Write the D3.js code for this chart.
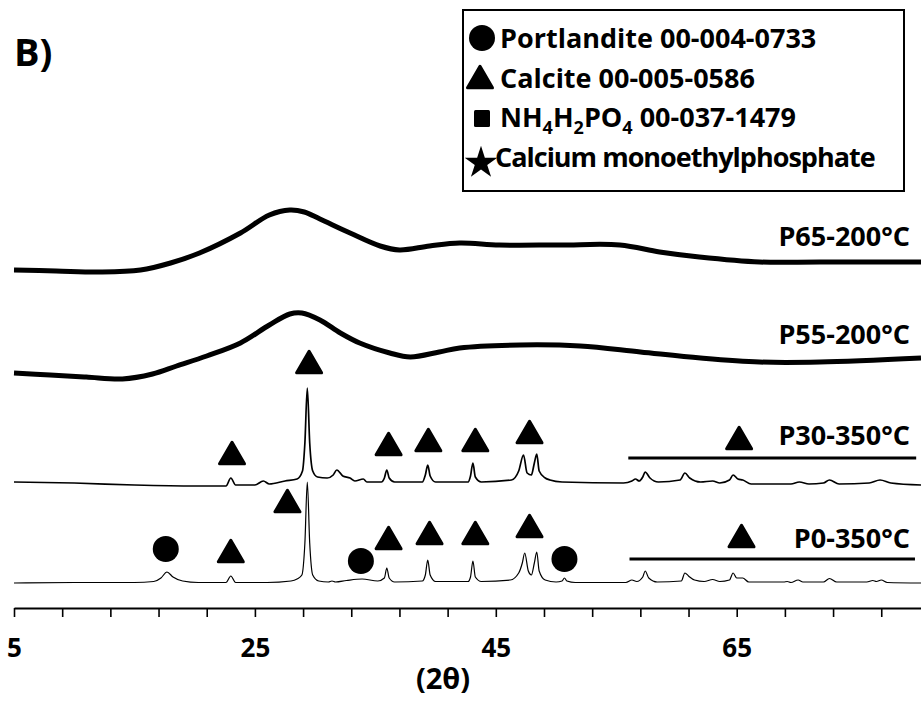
<!DOCTYPE html>
<html><head><meta charset="utf-8">
<script src="https://cdn.jsdelivr.net/npm/d3@7"></script>
<style>
html,body{margin:0;padding:0;background:#fff;}
svg{display:block;}
text{font-family:"Open Sans",sans-serif;font-weight:700;fill:#000;}
</style></head>
<body><svg id="chart" width="921" height="708"></svg>
<script>
// ---------- data ----------
const seriesNames = ["P0-350°C", "P30-350°C", "P55-200°C", "P65-200°C"];
const seriesOffsets = [25, 125, 228, 338];

const p0Data = [[5,0],[10,0.5],[15,0.5],[16.6,1.5],[17.2,5],[17.7,11],[18.2,6],[19.0,2],[20.3,0.5],[22.6,0.5],[23.0,7],[23.4,0.5],[26,0.5],[28.0,2],[28.5,4],[28.9,8],[29.15,40],[29.35,101],[29.55,40],[29.8,8],[30.3,2],[31.1,1],[31.4,2],[31.7,1],[32.6,2.5],[33.9,4],[35.2,2],[35.75,5],[35.95,15],[36.15,5],[36.6,1],[38.9,2],[39.15,8],[39.35,23],[39.55,8],[40,1.5],[42.7,1.5],[42.9,6],[43.1,22],[43.3,6],[43.8,1.5],[46.2,3],[46.9,10],[47.2,20],[47.4,30],[47.7,12],[47.95,8],[48.2,20],[48.4,31],[48.6,12],[49.1,3],[50.0,1],[50.5,2],[50.7,5],[50.9,2],[51.6,0.5],[55.8,0.5],[56.3,3],[56.7,1.5],[57.2,6],[57.4,12],[57.7,5],[58.4,1],[60.4,2],[60.7,10],[61.0,7],[61.5,3],[62.3,1.5],[63.0,3.5],[63.6,1.5],[64.4,3],[64.7,10],[65.0,5],[65.5,5],[66.0,1],[68.9,1],[69.2,1.5],[69.5,0.5],[70.1,3],[70.5,1],[72.2,1],[72.7,4.5],[73.3,1],[75.8,1],[76.3,2.5],[76.6,1.5],[77.0,3],[77.5,0.5],[80.3,0]];

const p30Data = [[5,1],[10,0],[15,-2],[20,-3],[22.6,-3],[23.0,5],[23.4,-2],[25.0,-2],[25.7,2],[26.2,-1],[27.5,2],[28.5,4],[28.95,12],[29.15,40],[29.35,95],[29.55,40],[29.8,12],[30.2,6],[31.0,5],[31.5,8],[31.8,13],[32.3,7],[32.9,5],[33.3,2],[34.0,4],[34.3,1],[35.5,1],[35.75,5],[35.95,13],[36.15,5],[36.6,1],[38.9,1],[39.15,8],[39.35,18],[39.55,7],[40.0,1],[42.7,1],[42.9,7],[43.1,20],[43.3,6],[43.8,1],[46.3,3],[46.9,12],[47.3,28],[47.6,10],[47.95,8],[48.2,20],[48.4,29],[48.6,12],[49.1,5],[49.5,3],[50.5,1],[55.6,0],[56.3,2],[56.6,4],[56.9,2],[57.2,6],[57.4,11],[57.8,5],[58.5,1],[60.3,3],[60.7,10],[61.1,5],[62.0,1],[63.0,2],[63.6,0],[64.4,3],[64.7,8],[65.1,4],[65.5,3],[66.2,-1],[69.5,-1],[70.2,1],[71.0,-1],[72.2,0],[72.7,3],[73.5,-1],[76.0,0],[76.9,3],[77.8,0],[80.3,-2]];

const p55Data = [[5.0,7],[8.0,5],[11.0,3],[14.0,1],[16.5,6],[18.5,14],[21.0,24],[23.8,37],[26.2,55],[27.9,66],[28.9,67],[30.4,60],[32.1,47],[33.7,37],[36.2,27],[37.9,23],[40.3,28],[42.0,32],[47.0,35],[52.0,34],[57.0,28],[62.0,22],[66.9,18],[71.9,18],[80.3,22]];

const p65Data = [[5.0,0],[8.5,-1],[12.1,-2],[15.5,0],[18.0,7],[20.4,17],[23.8,37],[26.2,55],[27.9,60],[29.1,58],[30.4,51],[32.9,37],[35.4,24],[37.0,20],[39.5,24],[42.0,27],[45.3,25],[50.3,25],[55.3,25],[58.6,18],[61.9,13],[66.9,8],[71.9,8],[80.3,8]];

const seriesData = [p0Data, p30Data, p55Data, p65Data];
const seriesWidths = [1.2, 1.7, 5, 5];

// phase markers: series index, phase, 2theta, level above series offset
const markerSeries = [0,0,0,0,0,0,0,0,0,0, 1,1,1,1,1,1,1];
const markerPhase  = ["circle","triangle","triangle","circle","triangle","triangle","triangle","triangle","circle","triangle",
                      "triangle","triangle","triangle","triangle","triangle","triangle","triangle"];
const markerTheta  = [17.6,23.0,27.7,33.8,36.1,39.5,43.3,47.8,50.7,65.4, 23.1,29.5,36.1,39.4,43.3,47.8,65.2];
const markerLevel  = [34,32,82,22,45,50,50,57,24,47, 30,121,39,43,43,51,45];

// multi-reflection bars
const barSeries = [0, 1];
const barStart = [56.1, 56.0];
const barEnd = [79.8, 79.9];
const barLevel = [24, 25];

const tickValues = [5,9,13,17,21,25,29,33,37,41,45,49,53,57,61,65,69,73,77];
const tickLabels = [5,25,45,65];
const xLabel = "(2θ)";
const panelLabel = "B)";

const legendPhases = ["circle","triangle","square","star"];
const legendNames = ["Portlandite 00-004-0733","Calcite 00-005-0586","NH4H2PO4 00-037-1479","Calcium monoethylphosphate"];

// ---------- drawing ----------
const svg = d3.select("#chart");
const x = d3.scaleLinear().domain([5, 80.3]).range([14, 921]);
const y = d3.scaleLinear().domain([0, 600]).range([608, 8]);

seriesData.forEach((data, i) => {
  const line = d3.line()
    .x(d => x(d[0]))
    .y(d => y(seriesOffsets[i] + d[1]))
    .curve(i < 2 ? d3.curveMonotoneX : d3.curveCatmullRom.alpha(0.5));
  svg.append("path").datum(data)
    .attr("d", line)
    .attr("fill", "none")
    .attr("stroke", "#000")
    .attr("stroke-width", seriesWidths[i])
    .attr("stroke-linejoin", "round");
});

const labelBaselines = [548, 445, 344, 246];
seriesNames.forEach((name, i) => {
  svg.append("text")
    .attr("x", 910)
    .attr("y", labelBaselines[i])
    .attr("text-anchor", "end")
    .attr("font-size", 27)
    .text(name);
});

barSeries.forEach((s, i) => {
  svg.append("line")
    .attr("x1", x(barStart[i])).attr("x2", x(barEnd[i]))
    .attr("y1", y(seriesOffsets[s] + barLevel[i])).attr("y2", y(seriesOffsets[s] + barLevel[i]))
    .attr("stroke", "#000").attr("stroke-width", 3);
});

function drawSymbol(g, type, cx, cy) {
  if (type === "circle") {
    g.append("circle").attr("cx", cx).attr("cy", cy).attr("r", 13).attr("fill", "#000");
  } else if (type === "triangle") {
    const h = 22;
    g.append("path")
      .attr("d", d3.symbol().type(d3.symbolTriangle).size(270)())
      .attr("transform", `translate(${cx},${cy + h / 6})`)
      .attr("fill", "#000").attr("stroke", "#000").attr("stroke-width", 3)
      .attr("stroke-linejoin", "round");
  } else if (type === "square") {
    g.append("rect").attr("x", cx - 8).attr("y", cy - 8).attr("width", 16).attr("height", 17)
      .attr("rx", 1.5).attr("fill", "#000");
  } else if (type === "star") {
    g.append("path")
      .attr("d", d3.symbol().type(d3.symbolStar).size(330)())
      .attr("transform", `translate(${cx},${cy + 2})`)
      .attr("fill", "#000");
  }
}

const markers = svg.append("g");
markerSeries.forEach((s, i) => {
  drawSymbol(markers, markerPhase[i], x(markerTheta[i]), y(seriesOffsets[s] + markerLevel[i]));
});

const axis = d3.axisBottom(x)
  .tickValues(tickValues)
  .tickSize(9)
  .tickSizeOuter(0)
  .tickPadding(22)
  .tickFormat(d => tickLabels.includes(d) ? d : "");
const ag = svg.append("g").attr("transform", `translate(0,${y(0)})`).call(axis);
ag.select(".domain").attr("stroke", "#000").attr("stroke-width", 2);
ag.selectAll(".tick line").attr("stroke", "#000").attr("stroke-width", 1.6);
ag.selectAll(".tick text")
  .attr("font-family", "'Open Sans',sans-serif")
  .attr("font-weight", 700)
  .attr("font-size", 26)
  .attr("fill", "#000");

svg.append("text").attr("x", 443).attr("y", 689).attr("text-anchor", "middle")
  .attr("font-size", 29).text(xLabel);

svg.append("text").attr("x", 14).attr("y", 66).attr("font-size", 38).text(panelLabel);

// legend
const lg = svg.append("g");
lg.append("rect").attr("x", 463).attr("y", 10).attr("width", 441).attr("height", 181)
  .attr("fill", "#fff").attr("stroke", "#000").attr("stroke-width", 2);
const legendY = [48, 88, 127, 167];
const legendSymY = [38, 77, 118, 161];
const legendSymX = [482, 480, 482, 481];
legendPhases.forEach((p, i) => {
  drawSymbol(lg, p, legendSymX[i], legendSymY[i]);
  const t = lg.append("text").attr("x", i === 3 ? 495 : 500).attr("y", legendY[i]).attr("font-size", 27);
  if (i === 2) {
    t.append("tspan").text("NH");
    t.append("tspan").attr("font-size", 18).attr("dy", 7).text("4");
    t.append("tspan").attr("dy", -7).text("H");
    t.append("tspan").attr("font-size", 18).attr("dy", 7).text("2");
    t.append("tspan").attr("dy", -7).text("PO");
    t.append("tspan").attr("font-size", 18).attr("dy", 7).text("4");
    t.append("tspan").attr("dy", -7).text(" 00-037-1479");
  } else {
    t.text(legendNames[i]);
    if (i === 3) t.attr("letter-spacing", -1);
  }
});
</script></body></html>
